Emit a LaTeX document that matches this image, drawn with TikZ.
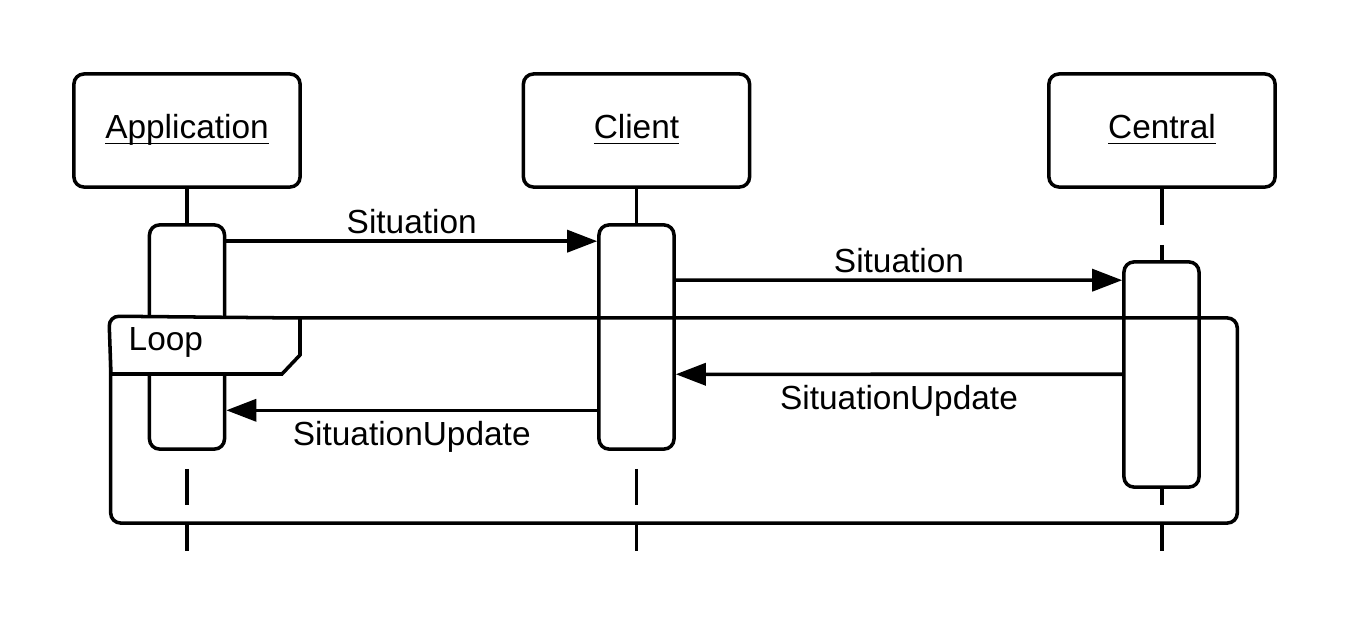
\documentclass[tikz,border=0pt]{standalone}
\usepackage{fontspec}
\setmainfont{Liberation Sans}
\usetikzlibrary{arrows.meta}

\newcommand{\ulabel}[1]{\underline{\smash{#1}\vphantom{A}}}

\tikzset{
    head/.style={draw, line width=1pt, rounded corners=0.1cm, minimum width=2.26cm, minimum height=1.13cm, inner sep=0pt},
    act/.style={draw, fill=white, line width=1pt, rounded corners=0.1cm, minimum width=0.75cm, inner sep=0pt},
    lifeline/.style={line width=1pt, dash pattern=on 0.36cm off 0.2cm},
    msg/.style={line width=1pt, -{Triangle[length=0.3cm, width=0.22cm]}},
    frame/.style={draw, line width=1pt, rounded corners=0.1cm, minimum width=11.26cm, minimum height=2.05cm, inner sep=0pt}
}

\begin{document}
\fontsize{9.5pt}{11pt}\selectfont
\begin{tikzpicture}[x=0.01cm, y=-0.01cm]
    \useasboundingbox (0,0) rectangle (1350,630);

    % participants
    \node[head] (app) at (187,130.5) {\ulabel{Application}};
    \node[head] (client) at (636.5,130.5) {\ulabel{Client}};
    \node[head] (central) at (1162,130.5) {\ulabel{Central}};

    \coordinate (append) at (187,551);
    \coordinate (clientend) at (636.5,551);
    \coordinate (centralend) at (1162,551);

    \draw[lifeline] (app.south) -- (append);
    \draw[lifeline] (client.south) -- (clientend);
    \draw[lifeline] (central.south) -- (centralend);

    % activations
    \node[act, minimum height=2.24cm] (appact) at (187,337) {};
    \node[act, minimum height=2.24cm] (clientact) at (636.5,337) {};
    \node[act, minimum height=2.25cm] (centralact) at (1161.5,374.5) {};

    % loop fragment
    \node[frame] (loop) at (674,420.5) {};
    \draw[line width=1pt, fill=white] (111,374) [rounded corners=0.1cm] -- (loop.north west) [sharp corners] -- (300,318) -- (300,355) -- (282,374) -- cycle;
    \node[anchor=west, inner sep=0pt] (looplabel) at (128,342) {Loop};

    % messages
    \draw[msg] ([yshift=-0.18cm]appact.north east) to node[above, inner sep=1.5pt] {Situation} ([yshift=-0.18cm]clientact.north west);
    \draw[msg] ([yshift=-0.57cm]clientact.north east) to node[above, inner sep=1.5pt] {Situation} ([yshift=-0.2cm]centralact.north west);
    \draw[msg] ([yshift=-1.14cm]centralact.north west) to node[below, inner sep=2.5pt] {SituationUpdate} ([yshift=-1.51cm]clientact.north east);
    \draw[msg] ([yshift=-1.87cm]clientact.north west) to node[below, inner sep=2.5pt] {SituationUpdate} ([yshift=-1.87cm]appact.north east);
\end{tikzpicture}
\end{document}
